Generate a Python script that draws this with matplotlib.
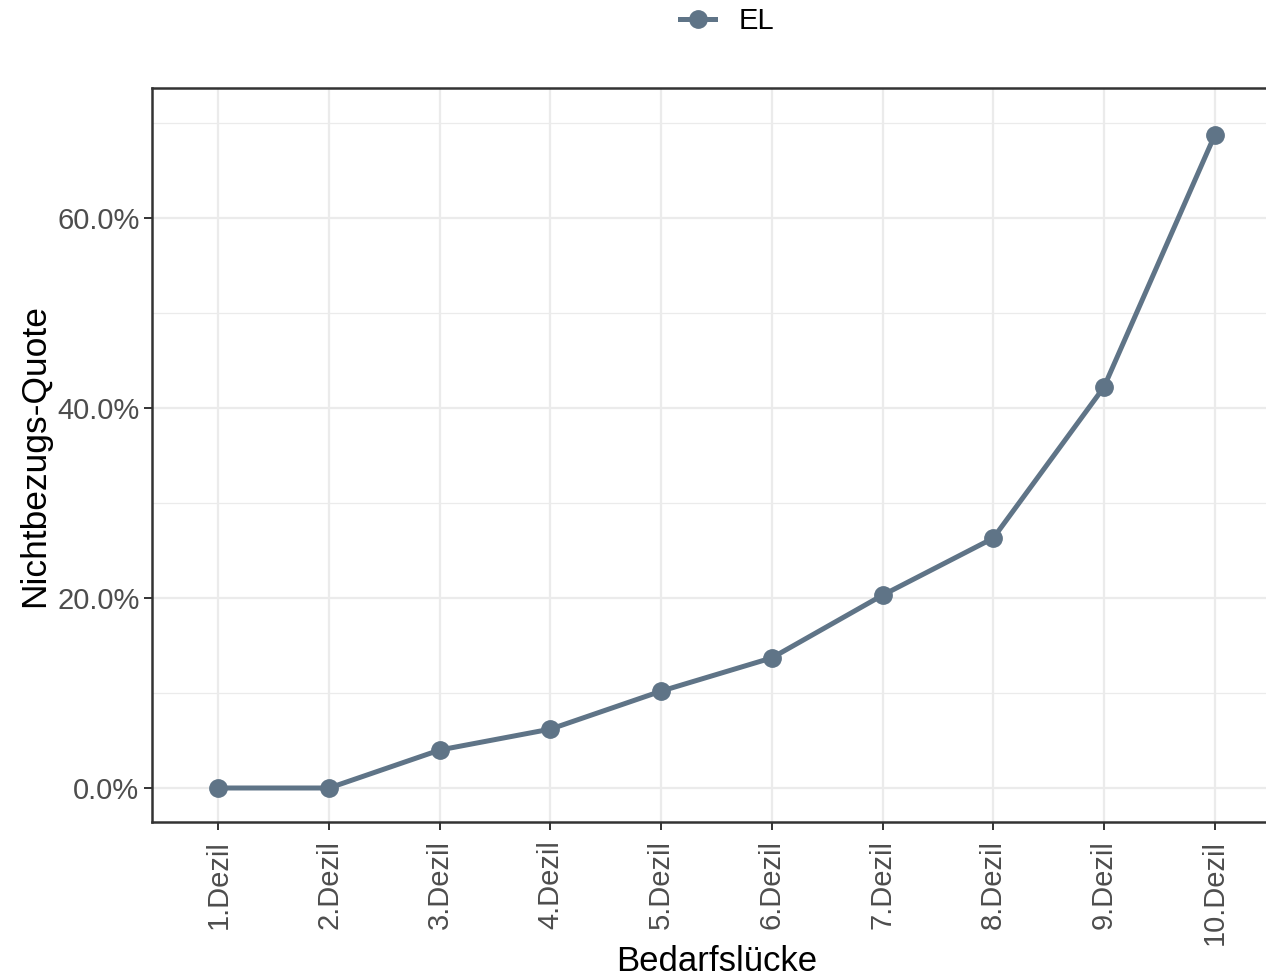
import numpy as np
import matplotlib.pyplot as plt
from matplotlib.ticker import FuncFormatter, MultipleLocator

# Daten
dezile = ['1.Dezil', '2.Dezil', '3.Dezil', '4.Dezil', '5.Dezil',
          '6.Dezil', '7.Dezil', '8.Dezil', '9.Dezil', '10.Dezil']
quote_el = [0.0, 0.0, 4.0, 6.2, 10.2, 13.7, 20.3, 26.3, 42.2, 68.7]

farbe = '#5f7487'
plt.rcParams['font.family'] = ['Liberation Sans', 'DejaVu Sans']

fig = plt.figure(figsize=(12.66, 9.8), dpi=100)
W, H = 1266, 980
ax = fig.add_axes([152 / W, (H - 822) / H, (1281 - 152) / W, (822 - 88) / H])

x = np.arange(1, len(dezile) + 1)
ax.plot(x, quote_el, color=farbe, lw=3.6, marker='o', ms=12.5, label='EL', zorder=3)

ax.set_xlim(0.4, 10.6)
ax.set_ylim(-3.58, 73.7)
ax.set_xticks(x)
ax.set_xticklabels(dezile, rotation=90, va='top', ha='center')
ax.yaxis.set_major_locator(MultipleLocator(20))
ax.yaxis.set_minor_locator(MultipleLocator(10))
ax.yaxis.set_major_formatter(FuncFormatter(lambda v, p: f'{v:.1f}%'))

ax.grid(which='major', color='#ebebeb', lw=1.6, zorder=0)
ax.grid(which='minor', axis='y', color='#ebebeb', lw=0.9, zorder=0)
ax.set_axisbelow(True)
for s in ax.spines.values():
    s.set_color('#333333')
    s.set_linewidth(1.8)
ax.tick_params(which='major', length=6, width=1.4, color='#333333',
               labelsize=21, labelcolor='#4d4d4d', pad=3)
ax.tick_params(axis='x', pad=7)
ax.tick_params(which='minor', length=0)

ax.set_xlabel('Bedarfslücke', fontsize=25, labelpad=0)
ax.set_ylabel('Nichtbezugs-Quote', fontsize=25.5, labelpad=4)

fig.legend(loc='center', bbox_to_anchor=(727 / W, 1 - 21 / H), frameon=False,
           fontsize=21, handlelength=1.2, handletextpad=0.8)

fig.savefig('out.png', dpi=100)
